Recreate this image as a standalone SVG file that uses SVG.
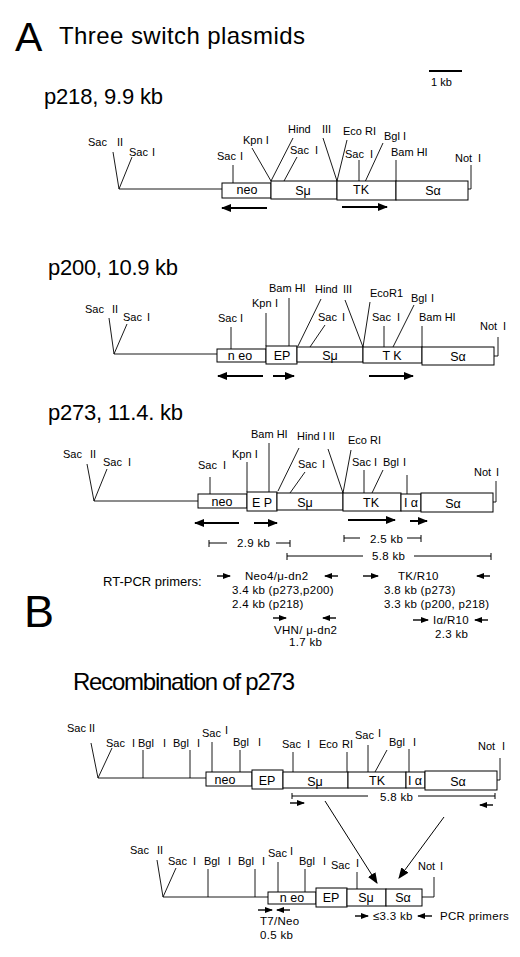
<svg xmlns="http://www.w3.org/2000/svg" width="520" height="957" viewBox="0 0 520 957">
<style>
text{font-family:"Liberation Sans",Arial,Helvetica,sans-serif;fill:#000}
.l{font-size:11px}
.b{font-size:12.5px}
.k{font-size:11.5px;letter-spacing:0.3px}
.h{font-size:24px}
.box{fill:#fff;stroke:#000;stroke-width:1}
.ln{stroke:#000;stroke-width:0.9;fill:none}
.ar{stroke:#000;stroke-width:2;fill:none}
.sa{stroke:#000;stroke-width:1.4;fill:none}
.th{stroke:#000;stroke-width:1;fill:none}
</style>
<defs>
<marker id="ah" viewBox="0 0 10 8" refX="9" refY="4" markerWidth="10" markerHeight="8" markerUnits="userSpaceOnUse" orient="auto"><path d="M0,0 L10,4 L0,8 Z" fill="#000"/></marker>
<marker id="as" viewBox="0 0 8 6" refX="7" refY="3" markerWidth="8" markerHeight="6" markerUnits="userSpaceOnUse" orient="auto"><path d="M0,0 L8,3 L0,6 Z" fill="#000"/></marker>
<marker id="ab" viewBox="0 0 10 8" refX="9" refY="4" markerWidth="11" markerHeight="9" markerUnits="userSpaceOnUse" orient="auto"><path d="M0,0 L10,4 L0,8 Z" fill="#000"/></marker>
</defs>
<rect width="520" height="957" fill="#fff"/>

<g id="titles">
<text x="15" y="51" style="font-size:41px">A</text>
<text x="59" y="44" class="h" textLength="246">Three switch plasmids</text>
<text x="44" y="104" class="h" style="font-size:22px" textLength="119">p218, 9.9 kb</text>
<text x="48" y="275" class="h" style="font-size:22px" textLength="130">p200, 10.9 kb</text>
<text x="48" y="420" class="h" style="font-size:22px" textLength="135">p273, 11.4. kb</text>
<text x="24" y="627" style="font-size:45px">B</text>
<text x="73" y="690" class="h" textLength="222">Recombination of p273</text>
</g>

<g id="scale">
<line x1="429" y1="71" x2="462" y2="71" stroke="#000" stroke-width="2"/>
<text x="431" y="86" class="l">1 kb</text>
</g>

<g id="p218">
<path class="ln" d="M119,189 H222 M113,152 L119,189 L132,157 M233,165 V183 M252,148 L271,181 M293,138 L271,181 M323,138 L337,181 M297,157 L284,181 M347,140 L337,181 M359,160 V181 M383,143 L365,182 M396,160 V181 M468,189 H471 V165"/>
<rect class="box" x="222" y="183" width="49" height="15"/>
<rect class="box" x="271" y="181" width="66" height="18"/>
<rect class="box" x="337" y="181" width="59" height="19"/>
<rect class="box" x="396" y="181" width="72" height="19"/>
<g class="l">
<text x="88" y="146">Sac<tspan x="117">II</tspan></text>
<text x="129" y="156">Sac<tspan x="152">I</tspan></text>
<text x="217" y="160">Sac<tspan x="240">I</tspan></text>
<text x="243" y="144">Kpn I</text>
<text x="288" y="133">Hind<tspan x="322">III</tspan></text>
<text x="290" y="154">Sac<tspan x="315">I</tspan></text>
<text x="343" y="135">Eco RI</text>
<text x="345" y="158">Sac<tspan x="370">I</tspan></text>
<text x="384" y="140">Bgl I</text>
<text x="391" y="156">Bam HI</text>
<text x="455" y="162">Not<tspan x="478">I</tspan></text>
</g>
<g class="b" text-anchor="middle">
<text x="247" y="194">neo</text>
<text x="303" y="195">Sμ</text>
<text x="361" y="194">TK</text>
<text x="433" y="195">Sα</text>
</g>
</g>

<g id="p200">
<path class="ln" d="M114,354 H217 M109,318 L114,354 L127,324 M231,327 V349 M266,313 V346 M289,298 V346 M321,299 L298,346 M345,300 L363,347 M325,325 L310,347 M370,302 L363,347 M384,326 V347 M414,305 L393,347 M422,326 V347 M494,356 H498 V337"/>
<rect class="box" x="217" y="349" width="49" height="13"/>
<rect class="box" x="266" y="346" width="31" height="18"/>
<rect class="box" x="297" y="347" width="66" height="15"/>
<rect class="box" x="363" y="347" width="59" height="16"/>
<rect class="box" x="422" y="347" width="72" height="18"/>
<g class="l">
<text x="85" y="313">Sac<tspan x="112">II</tspan></text>
<text x="123" y="321">Sac<tspan x="147">I</tspan></text>
<text x="218" y="322">Sac<tspan x="240">I</tspan></text>
<text x="252" y="307">Kpn<tspan x="275">I</tspan></text>
<text x="269" y="292">Bam HI</text>
<text x="315" y="293">Hind<tspan x="343">III</tspan></text>
<text x="318" y="321">Sac<tspan x="342">I</tspan></text>
<text x="370" y="297">EcoR1</text>
<text x="372" y="321">Sac<tspan x="397">I</tspan></text>
<text x="411" y="302">Bgl<tspan x="431">I</tspan></text>
<text x="419" y="321">Bam HI</text>
<text x="480" y="330">Not<tspan x="503">I</tspan></text>
</g>
<g class="b" text-anchor="middle">
<text x="240" y="360">n eo</text>
<text x="282" y="360">EP</text>
<text x="330" y="360">Sμ</text>
<text x="392" y="360">T K</text>
<text x="458" y="361">Sα</text>
</g>
</g>

<g id="p273">
<path class="ln" d="M94,501 H198 M87,464 L94,501 L107,469 M210,477 V494 M247,462 V492 M269,443 V492 M299,448 L278,491 M328,449 L343,493 M305,472 L290,493 M351,450 L343,493 M364,470 V493 M383,470 L372,493 M407,475 V494 M493,502 H496 V481"/>
<rect class="box" x="198" y="494" width="49" height="14"/>
<rect class="box" x="247" y="492" width="30" height="19"/>
<rect class="box" x="277" y="493" width="66" height="17"/>
<rect class="box" x="343" y="493" width="58" height="18"/>
<rect class="box" x="401" y="494" width="20" height="17"/>
<rect class="box" x="421" y="493" width="72" height="19"/>
<g class="l">
<text x="63" y="458">Sac<tspan x="90">II</tspan></text>
<text x="103" y="466">Sac<tspan x="128">I</tspan></text>
<text x="198" y="469">Sac<tspan x="223">I</tspan></text>
<text x="232" y="458">Kpn I</text>
<text x="251" y="438">Bam HI</text>
<text x="297" y="440">Hind I II</text>
<text x="298" y="468">Sac<tspan x="322">I</tspan></text>
<text x="348" y="444">Eco RI</text>
<text x="352" y="466">Sac I</text>
<text x="383" y="466">Bgl<tspan x="403">I</tspan></text>
<text x="474" y="476">Not<tspan x="496">I</tspan></text>
</g>
<g class="b" text-anchor="middle">
<text x="222" y="506">neo</text>
<text x="262" y="507">E P</text>
<text x="305" y="507">Sμ</text>
<text x="371" y="507">TK</text>
<text x="411" y="507">I α</text>
<text x="453" y="508">Sα</text>
</g>
</g>

<g id="dimensions">
<path class="th" d="M209,540 V547 M209,543 H227 M276,543 H290 M290,540 V547 M344,535 V542 M344,538 H360 M407,538 H421 M421,535 V542 M287,553 V560 M287,556 H363 M414,556 H491 M491,553 V560"/>
<g class="k">
<text x="237" y="547">2.9 kb</text>
<text x="370" y="543">2.5 kb</text>
<text x="372" y="560">5.8 kb</text>
</g>
</g>

<g id="primers">
<text x="103" y="586" style="font-size:13px">RT-PCR primers:</text>
<g class="k">
<text x="245" y="580">Neo4/μ-dn2</text>
<text x="232" y="594">3.4 kb (p273,p200)</text>
<text x="232" y="608">2.4 kb (p218)</text>
<text x="398" y="580">TK/R10</text>
<text x="384" y="594">3.8 kb (p273)</text>
<text x="384" y="608">3.3 kb (p200, p218)</text>
<text x="274" y="634">VHN/ μ-dn2</text>
<text x="289" y="646">1.7 kb</text>
<text x="433" y="624">Iα/R10</text>
<text x="435" y="638">2.3 kb</text>
</g>
</g>

<g id="recombination">
<path class="ln" d="M98,778 H206 M91,743 L98,778 L112,748 M143,750 V778 M190,750 V778 M212,742 V772 M240,750 V772 M293,752 V772 M347,752 V772 M368,745 V772 M387,750 L375,772 M409,749 V772 M497,780 H500 V758"/>
<rect class="box" x="206" y="772" width="46" height="14"/>
<rect class="box" x="252" y="770" width="31" height="19"/>
<rect class="box" x="283" y="772" width="65" height="16"/>
<rect class="box" x="348" y="772" width="58" height="16"/>
<rect class="box" x="406" y="772" width="19" height="16"/>
<rect class="box" x="425" y="771" width="72" height="19"/>
<g class="l">
<text x="67" y="732">Sac II</text>
<text x="106" y="747">Sac<tspan x="132">I</tspan></text>
<text x="138" y="747">Bgl<tspan x="163">I</tspan></text>
<text x="173" y="747">Bgl<tspan x="197">I</tspan></text>
<text x="202" y="737">Sac<tspan x="225" y="734">I</tspan></text>
<text x="233" y="746">Bgl<tspan x="258">I</tspan></text>
<text x="282" y="748">Sac<tspan x="307">I</tspan></text>
<text x="319" y="748">Eco<tspan x="342">RI</tspan></text>
<text x="355" y="739">Sac<tspan x="378" y="737">I</tspan></text>
<text x="389" y="746">Bgl<tspan x="413">I</tspan></text>
<text x="478" y="750">Not<tspan x="502">I</tspan></text>
</g>
<g class="b" text-anchor="middle">
<text x="225" y="784">neo</text>
<text x="267" y="785">EP</text>
<text x="315" y="786">Sμ</text>
<text x="377" y="785">TK</text>
<text x="415" y="785">I α</text>
<text x="458" y="786">Sα</text>
</g>
<path class="th" d="M292,793 V799 M292,796 H368 M418,796 H495 M495,793 V799"/>
<text x="380" y="801" class="k">5.8 kb</text>
</g>

<g id="recombined">
<path class="ln" d="M163,897 H268 M157,860 L163,897 L176,868 M208,869 V897 M255,869 V897 M278,862 V892 M305,869 V892 M357,872 V889 M422,897 H434 V877"/>
<rect class="box" x="268" y="892" width="48" height="12"/>
<rect class="box" x="316" y="888" width="31" height="19"/>
<rect class="box" x="347" y="889" width="39" height="17"/>
<rect class="box" x="386" y="889" width="36" height="17"/>
<g class="l">
<text x="130" y="854">Sac<tspan x="157">II</tspan></text>
<text x="168" y="865">Sac<tspan x="193">I</tspan></text>
<text x="204" y="865">Bgl<tspan x="228">I</tspan></text>
<text x="238" y="865">Bgl<tspan x="262">I</tspan></text>
<text x="268" y="857">Sac<tspan x="290" y="855">I</tspan></text>
<text x="299" y="865">Bgl<tspan x="323">I</tspan></text>
<text x="331" y="869">Sac<tspan x="356" y="867">I</tspan></text>
<text x="418" y="870">Not<tspan x="440">I</tspan></text>
</g>
<g class="b" text-anchor="middle">
<text x="292" y="902">n eo</text>
<text x="331" y="902">EP</text>
<text x="366" y="902">Sμ</text>
<text x="403" y="902">Sα</text>
</g>
<g class="k">
<text x="260" y="925">T7/Neo</text>
<text x="260" y="939">0.5 kb</text>
<text x="373" y="920">≤3.3 kb</text>
<text x="440" y="920">PCR primers</text>
</g>
</g>

<g id="connectors">
<line class="ar" x1="267" y1="208" x2="222" y2="208" marker-end="url(#ah)"/>
<line class="ar" x1="342" y1="207" x2="387" y2="207" marker-end="url(#ah)"/>
<line class="ar" x1="263" y1="376" x2="218" y2="376" marker-end="url(#ah)"/>
<line class="ar" x1="273" y1="376" x2="294" y2="376" marker-end="url(#ah)"/>
<line class="ar" x1="369" y1="376" x2="413" y2="376" marker-end="url(#ah)"/>
<line class="ar" x1="239" y1="523" x2="195" y2="523" marker-end="url(#ah)"/>
<line class="ar" x1="254" y1="523" x2="277" y2="523" marker-end="url(#ah)"/>
<line class="ar" x1="348" y1="520" x2="395" y2="520" marker-end="url(#ah)"/>
<line class="ar" x1="410" y1="521" x2="427" y2="521" marker-end="url(#ah)"/>
<line class="sa" x1="217" y1="576" x2="230" y2="576" marker-end="url(#as)"/>
<line class="sa" x1="338" y1="576" x2="325" y2="576" marker-end="url(#as)"/>
<line class="sa" x1="363" y1="576" x2="378" y2="576" marker-end="url(#as)"/>
<line class="sa" x1="490" y1="576" x2="477" y2="576" marker-end="url(#as)"/>
<line class="sa" x1="273" y1="618" x2="286" y2="618" marker-end="url(#as)"/>
<line class="sa" x1="336" y1="618" x2="323" y2="618" marker-end="url(#as)"/>
<line class="sa" x1="413" y1="620" x2="428" y2="620" marker-end="url(#as)"/>
<line class="sa" x1="488" y1="620" x2="475" y2="620" marker-end="url(#as)"/>
<line class="sa" x1="290" y1="803" x2="304" y2="803" marker-end="url(#as)"/>
<line class="sa" x1="493" y1="805" x2="480" y2="805" marker-end="url(#as)"/>
<line class="th" x1="325" y1="801" x2="377" y2="883" marker-end="url(#ab)"/>
<line class="th" x1="444" y1="817" x2="399" y2="878" marker-end="url(#ab)"/>
<line class="sa" x1="258" y1="910" x2="272" y2="910" marker-end="url(#as)"/>
<line class="sa" x1="290" y1="910" x2="277" y2="910" marker-end="url(#as)"/>
<line class="sa" x1="355" y1="916" x2="368" y2="916" marker-end="url(#as)"/>
<line class="sa" x1="432" y1="916" x2="418" y2="916" marker-end="url(#as)"/>
</g>
</svg>
